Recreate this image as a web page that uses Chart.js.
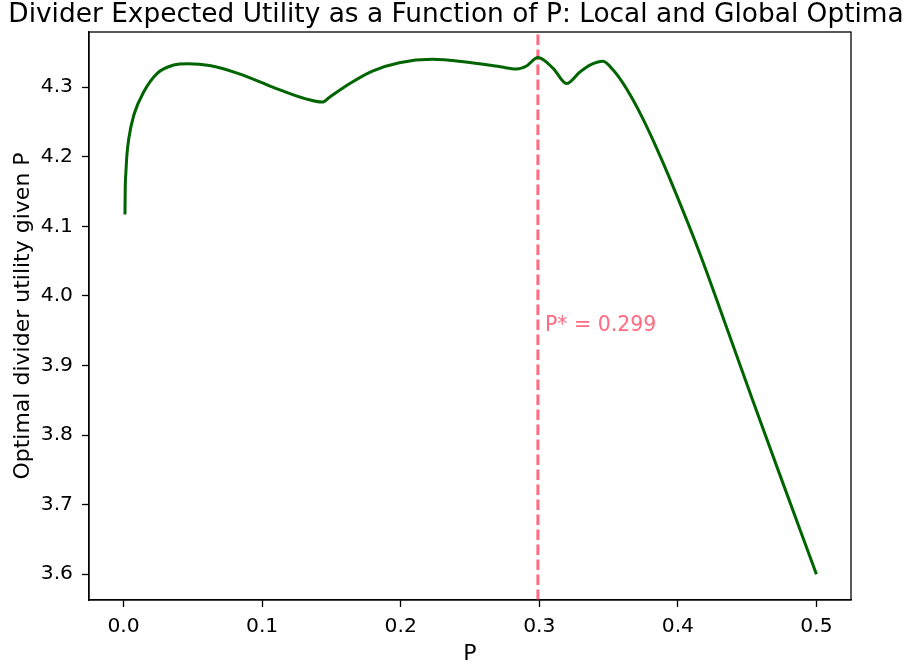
<!DOCTYPE html>
<html>
<head>
<meta charset="utf-8">
<script src="https://cdn.jsdelivr.net/npm/chart.js@4.4.0/dist/chart.umd.min.js"></script>
<style>
  html, body { margin: 0; padding: 0; background: #ffffff; }
  #wrap { width: 910px; height: 669px; }
</style>
</head>
<body>
<div id="wrap"><canvas id="c" width="910" height="669"></canvas></div>
<script>
// ---- data ----
const pValues = [0.001, 0.0012, 0.0017, 0.0024, 0.0038, 0.0074, 0.0146, 0.0243, 0.0362, 0.0463,
  0.062, 0.0836, 0.1076, 0.1316, 0.1436, 0.1484, 0.163, 0.1796, 0.199, 0.2229,
  0.2469, 0.2716, 0.2836, 0.2908, 0.299, 0.31, 0.3197, 0.3293, 0.3365, 0.346,
  0.3533, 0.3605, 0.3677, 0.3749, 0.3845, 0.3929, 0.4157, 0.435, 0.454, 0.4733, 0.5];
const utilityValues = [4.117, 4.1545, 4.178, 4.2023, 4.2263, 4.2598, 4.2932, 4.3197, 4.3316, 4.3335,
  4.331, 4.319, 4.300, 4.283, 4.2784, 4.2851, 4.3048, 4.323, 4.335, 4.3398,
  4.336, 4.3292, 4.3259, 4.3302, 4.3425, 4.3269, 4.305, 4.3216, 4.3316, 4.3372,
  4.3244, 4.3053, 4.2813, 4.2539, 4.2131, 4.1745, 4.0616, 3.9556, 3.850, 3.7445, 3.60];
const pStar = 0.299;
const xTicks = [0.0, 0.1, 0.2, 0.3, 0.4, 0.5];
const yTicks = [3.6, 3.7, 3.8, 3.9, 4.0, 4.1, 4.2, 4.3];
const titleText = 'Divider Expected Utility as a Function of P: Local and Global Optima';
const xLabel = 'P';
const yLabel = 'Optimal divider utility given P';
const annotationText = 'P* = ' + pStar.toFixed(3);

const FONT = '"DejaVu Sans", "Liberation Sans", sans-serif';
const GREEN = '#006400';
const PINK = '#ff6b81';

const points = pValues.map((p, i) => ({ x: p, y: utilityValues[i] }));

const decorPlugin = {
  id: 'decor',
  beforeDatasetsDraw(chart) {
    const ctx = chart.ctx;
    const a = chart.chartArea;
    const xs = chart.scales.x;
    const px = xs.getPixelForValue(pStar);
    ctx.save();
    ctx.beginPath();
    ctx.rect(a.left, a.top, a.right - a.left, a.bottom - a.top);
    ctx.clip();
    ctx.strokeStyle = PINK;
    ctx.lineWidth = 3;
    ctx.setLineDash([10.5, 4.5]);
    ctx.beginPath();
    ctx.moveTo(px, a.bottom);
    ctx.lineTo(px, a.top);
    ctx.stroke();
    ctx.restore();
  },
  afterDraw(chart) {
    const ctx = chart.ctx;
    const a = chart.chartArea;
    const xs = chart.scales.x;
    const ys = chart.scales.y;
    ctx.save();
    // frame
    ctx.strokeStyle = '#000';
    ctx.lineWidth = 1.3;
    ctx.setLineDash([]);
    ctx.strokeRect(a.left, a.top, a.right - a.left, a.bottom - a.top);
    // annotation
    ctx.fillStyle = PINK;
    ctx.font = '20.5px ' + FONT;
    ctx.textAlign = 'left';
    ctx.textBaseline = 'middle';
    ctx.fillText(annotationText, xs.getPixelForValue(pStar) + 7, ys.getPixelForValue(3.957));
    // title
    ctx.fillStyle = '#000';
    ctx.font = '26.4px ' + FONT;
    ctx.textAlign = 'center';
    ctx.textBaseline = 'alphabetic';
    ctx.fillText(titleText, 456, 22);
    // x label
    ctx.font = '22px ' + FONT;
    ctx.fillText(xLabel, (a.left + a.right) / 2, 660);
    // y label
    ctx.translate(29, (a.top + a.bottom) / 2);
    ctx.rotate(-Math.PI / 2);
    ctx.font = '22px ' + FONT;
    ctx.fillText(yLabel, 0, 0);
    ctx.restore();
  }
};

new Chart(document.getElementById('c'), {
  type: 'line',
  data: {
    datasets: [{
      data: points,
      borderColor: GREEN,
      borderWidth: 3,
      pointRadius: 0,
      fill: false,
      cubicInterpolationMode: 'monotone'
    }]
  },
  options: {
    responsive: false,
    animation: false,
    devicePixelRatio: 1,
    layout: { padding: { top: 32, right: 59, left: 0, bottom: 0 } },
    plugins: { legend: { display: false }, title: { display: false }, tooltip: { enabled: false } },
    scales: {
      x: {
        type: 'linear',
        min: -0.02495,
        max: 0.52495,
        afterFit(s) { s.height = 69; },
        afterBuildTicks(s) { s.ticks = xTicks.map(v => ({ value: v })); },
        grid: { display: true, drawOnChartArea: false, tickLength: 7, tickColor: '#000', tickWidth: 1.3 },
        border: { display: true, color: '#000', width: 1.3 },
        ticks: { color: '#000', font: { family: FONT, size: 20.3 }, padding: 8, maxRotation: 0,
                 callback: v => v.toFixed(1) }
      },
      y: {
        type: 'linear',
        min: 3.5629,
        max: 4.3791,
        afterFit(s) { s.width = 89; },
        afterBuildTicks(s) { s.ticks = yTicks.map(v => ({ value: v })); },
        grid: { display: true, drawOnChartArea: false, tickLength: 7, tickColor: '#000', tickWidth: 1.3 },
        border: { display: true, color: '#000', width: 1.3 },
        ticks: { color: '#000', font: { family: FONT, size: 20.3 }, padding: 9,
                 callback: v => v.toFixed(1) }
      }
    }
  },
  plugins: [decorPlugin]
});
</script>
</body>
</html>
